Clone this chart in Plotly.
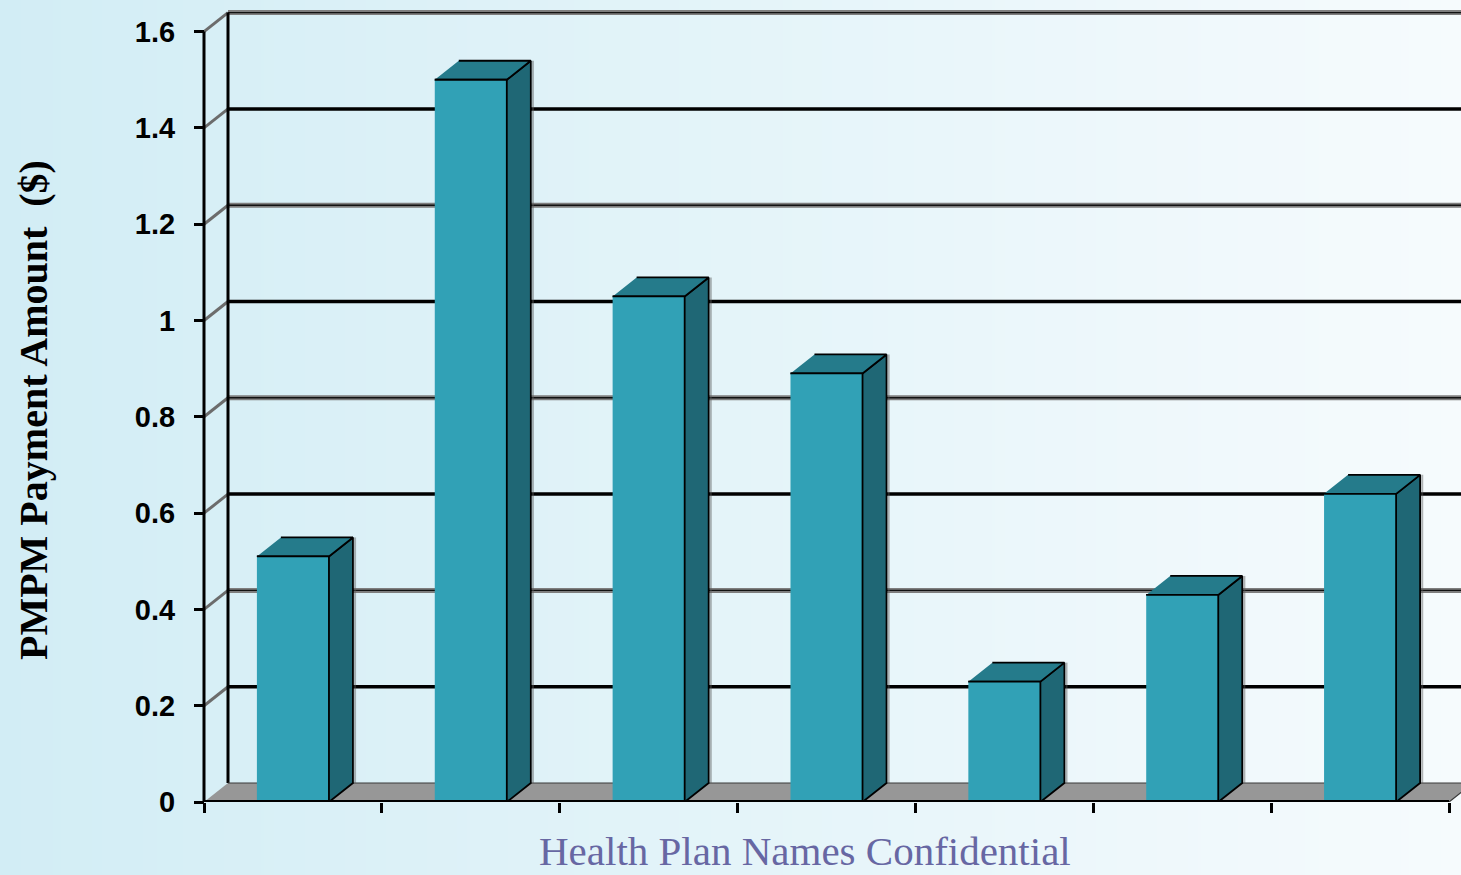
import plotly.graph_objects as go

# PMPM payment per health plan (plan names withheld)
plan_index = [0, 1, 2, 3, 4, 5, 6]
pmpm_values = [0.51, 1.50, 1.05, 0.89, 0.25, 0.43, 0.64]

y_tick_vals = [0, 0.2, 0.4, 0.6, 0.8, 1.0, 1.2, 1.4, 1.6]
y_tick_text = ["0", "0.2", "0.4", "0.6", "0.8", "1", "1.2", "1.4", "1.6"]
x_tick_vals = [-0.5, 0.5, 1.5, 2.5, 3.5, 4.5, 5.5, 6.5]

# pseudo-3D geometry (depth offset in axis units)
W, H = 1461, 875
PLOT_L, PLOT_B, PLOT_T = 150, 73, 5
PX_PER_CAT = 177.86
PX_PER_UNIT = 481.5
AXIS_PX = 204
DX = 24 / PX_PER_CAT
DY = 19 / PX_PER_UNIT
BAR_W = 0.405
X0 = -0.5
X_END = 6.5
Y_TOP = 1.6

FRONT = "#31a1b6"
TOP = "#257b8b"
SIDE = "#1f6775"
FLOOR = "#979797"

fig = go.Figure()

# background gradient across the whole figure
fig.add_trace(go.Heatmap(
    x=[0, 1], y=[0, 1], z=[[0, 1], [0, 1]], zsmooth="best",
    colorscale=[[0, "#d2edf5"], [1, "#f6fbfd"]], showscale=False,
    hoverinfo="skip", xaxis="x", yaxis="y",
))


def line(xs, ys, color, width):
    fig.add_trace(go.Scatter(
        x=xs, y=ys, mode="lines", line=dict(color=color, width=width),
        hoverinfo="skip", showlegend=False, xaxis="x2", yaxis="y2",
    ))


def poly(xs, ys, fill, edge="black", width=1.8):
    fig.add_trace(go.Scatter(
        x=xs, y=ys, mode="lines", fill="toself", fillcolor=fill,
        line=dict(color=edge, width=width), hoverinfo="skip",
        showlegend=False, xaxis="x2", yaxis="y2",
    ))


# back-wall gridlines, alternating black / grey
for k, v in enumerate(y_tick_vals[1:], start=1):
    if k % 2 == 1:
        line([X0 + DX, X_END + 2], [v + DY, v + DY], "black", 3.5)
    else:
        line([X0 + DX, X_END + 2], [v + DY, v + DY], "#7e7e7e", 5)
        line([X0 + DX, X_END + 2], [v + DY, v + DY], "#111111", 1.4)

# side-wall diagonals
for v in y_tick_vals[1:]:
    line([X0, X0 + DX], [v, v + DY], "#6c6c6c", 3)

# back-wall left edge
line([X0 + DX, X0 + DX], [DY, Y_TOP + DY], "black", 3)

# floor
poly([X0, X_END, X_END + DX, X0 + DX], [0, 0, DY, DY], FLOOR, edge="#3a3a3a", width=1.2)

# front value axis line
line([X0, X0], [0, Y_TOP], "black", 3)

# bars: side, top and front faces from the values
sx, sy, tx, ty, fx, fy = [], [], [], [], [], []
for i, v in zip(plan_index, pmpm_values):
    left, right = i - BAR_W / 2, i + BAR_W / 2
    sx += [right, right + DX, right + DX, right, None]
    sy += [0, DY, v + DY, v, None]
    tx += [left, right, right + DX, left + DX, None]
    ty += [v, v, v + DY, v + DY, None]
    fx += [left, right, right, left, None]
    fy += [0, 0, v, v, None]
# faint shadow beside each bar
for i, v in zip(plan_index, pmpm_values):
    right = i + BAR_W / 2
    line([right + DX + 0.012, right + DX + 0.012], [DY, v + DY], "rgba(90,90,90,0.45)", 2)
poly(sx, sy, SIDE)
poly(tx, ty, TOP)
poly(fx, fy, FRONT)

# front category axis line
line([X0, X_END], [0, 0], "black", 4)

x_lo = X0 - (AXIS_PX - PLOT_L) / PX_PER_CAT
x_hi = X0 + (W - AXIS_PX) / PX_PER_CAT
y_hi = (H - PLOT_B - PLOT_T) / PX_PER_UNIT

fig.update_layout(
    width=W, height=H,
    margin=dict(l=0, r=0, t=0, b=0, autoexpand=False),
    paper_bgcolor="#d3eef5",
    plot_bgcolor="rgba(0,0,0,0)",
    showlegend=False,
    xaxis=dict(domain=[0, 1], range=[0, 1], visible=False, fixedrange=True, automargin=False),
    yaxis=dict(domain=[0, 1], range=[0, 1], visible=False, fixedrange=True, automargin=False),
    xaxis2=dict(
        domain=[PLOT_L / W, 1], range=[x_lo, x_hi], anchor="y2",
        tickmode="array", tickvals=x_tick_vals, showticklabels=False,
        ticks="outside", ticklen=10, tickwidth=3, tickcolor="black",
        showgrid=False, zeroline=False, showline=False, automargin=False,
    ),
    yaxis2=dict(
        domain=[PLOT_B / H, (H - PLOT_T) / H], range=[0, y_hi],
        anchor="free", position=AXIS_PX / W,
        tickmode="array", tickvals=y_tick_vals, ticktext=y_tick_text,
        ticks="outside", ticklen=10, tickwidth=3, tickcolor="black",
        ticklabelstandoff=13, automargin=False,
        tickfont=dict(family="Liberation Sans", size=29, color="black", weight="bold"),
        showgrid=False, zeroline=False, showline=False,
    ),
    annotations=[
        dict(text="PMPM Payment Amount\u00a0\u00a0($)", xref="paper", yref="paper",
             x=33 / W, y=1 - 410 / H, textangle=-90, showarrow=False,
             xanchor="center", yanchor="middle",
             font=dict(family="Liberation Serif", size=40, color="black", weight="bold")),
        dict(text="Health Plan Names Confidential", xref="paper", yref="paper",
             x=805 / W, y=0, showarrow=False,
             xanchor="center", yanchor="bottom", borderpad=0,
             font=dict(family="Liberation Serif", size=41, color="#6767a3")),
    ],
)

fig.write_html("out.html")
